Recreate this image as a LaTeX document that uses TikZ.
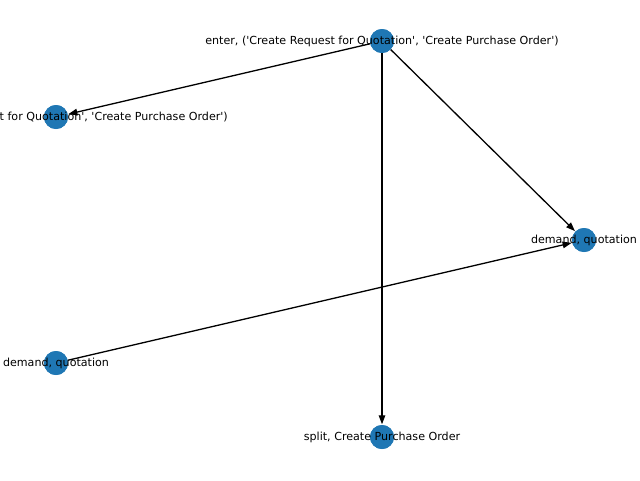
\documentclass[tikz,border=0pt]{standalone}
\usepackage{fontspec}
\setmainfont{DejaVu Sans}[Ligatures=TeXOff]
\usetikzlibrary{arrows.meta}
\definecolor{nodeblue}{HTML}{1F77B4}
\tikzset{
  vert/.style={circle, fill=nodeblue, draw=none, minimum size=24pt, inner sep=0pt},
  lbl/.style={font=\fontsize{11.1}{13}\selectfont, inner sep=0pt, text=black},
  edge/.style={line width=1.3pt, -{Triangle[length=9pt,width=6.5pt]}, shorten >=0.5pt}
}
\begin{document}
\begin{tikzpicture}[x=1pt,y=-1pt]
\useasboundingbox (0,0) rectangle (640,480);
\clip (0,0) rectangle (640,480);
\node[vert] (A) at (382,41) {};
\node[vert] (B) at (56,117) {};
\node[vert] (C) at (584,240) {};
\node[vert] (D) at (56,363) {};
\node[vert] (E) at (382,437) {};
\draw[edge] (A) -- (B);
\draw[edge] (A) -- (C);
\draw[edge] (A) -- (E);
\draw[edge] (D) -- (C);
\node[vert] at (A) {};
\node[vert] at (B) {};
\node[vert] at (C) {};
\node[vert] at (D) {};
\node[vert] at (E) {};
\node[lbl] (lA) at (A) {enter, ('Create Request for Quotation', 'Create Purchase Order')};
\node[lbl, anchor=east] (lB) at (228,117) {t for Quotation', 'Create Purchase Order')};
\node[lbl] (lC) at (C) {demand, quotation};
\node[lbl] (lD) at (D) {demand, quotation};
\node[lbl] (lE) at (E) {split, Create Purchase Order};
\end{tikzpicture}
\end{document}
